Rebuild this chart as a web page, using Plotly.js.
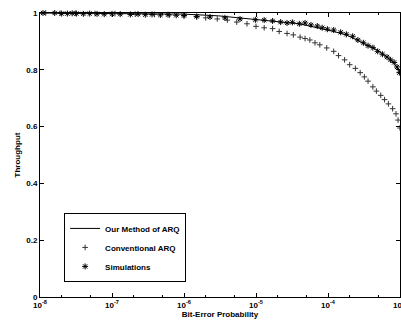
<!DOCTYPE html>
<html>
<head>
<meta charset="utf-8">
<script src="https://cdn.plot.ly/plotly-3.0.1.min.js"></script>
<style>html,body{margin:0;padding:0;background:#fff;}#chart{width:401px;height:322px;}</style>
</head>
<body>
<div id="chart"></div>
<script>
// "Our Method of ARQ" (analytic curve)
var ourP = [1e-8, 1e-7, 1e-6, 3e-6, 1e-5, 2e-5, 4e-5, 6e-5, 1e-4, 1.8e-4, 3e-4, 4.8e-4, 6.6e-4, 8e-4, 9e-4, 1e-3];
var ourT = [1.0, 0.999, 0.996, 0.99, 0.977, 0.968, 0.962, 0.952, 0.94, 0.923, 0.895, 0.87, 0.845, 0.827, 0.81, 0.79];

// "Conventional ARQ"
var convP = [1.2e-8, 1.9e-8, 3.1e-8, 5.8e-8, 1.1e-7, 2.1e-7, 3.9e-7, 6.3e-7, 1.0e-6, 1.5e-6, 2.0e-6, 2.9e-6, 4.0e-6, 5.4e-6, 7.5e-6, 1.0e-5, 1.3e-5, 1.7e-5, 2.1e-5, 2.7e-5, 3.3e-5, 4.1e-5, 4.8e-5, 5.6e-5, 6.6e-5, 7.7e-5, 9.6e-5, 1.2e-4, 1.4e-4, 1.7e-4, 2.0e-4, 2.4e-4, 2.8e-4, 3.2e-4, 3.6e-4, 4.2e-4, 4.7e-4, 5.4e-4, 6.1e-4, 6.9e-4, 7.9e-4, 8.8e-4, 9.4e-4, 1.0e-3];
var convT = [1.0, 0.999, 0.999, 0.998, 0.998, 0.996, 0.995, 0.993, 0.99, 0.986, 0.983, 0.979, 0.975, 0.968, 0.962, 0.953, 0.948, 0.945, 0.935, 0.928, 0.923, 0.915, 0.91, 0.905, 0.895, 0.888, 0.877, 0.865, 0.85, 0.835, 0.818, 0.805, 0.79, 0.775, 0.76, 0.74, 0.725, 0.71, 0.695, 0.68, 0.663, 0.645, 0.623, 0.595];

// "Simulations"
var simP = [1.1e-8, 1.6e-8, 2.0e-8, 2.4e-8, 2.8e-8, 3.2e-8, 4.0e-8, 4.9e-8, 6.2e-8, 7.8e-8, 1e-7, 1.3e-7, 1.8e-7, 2.3e-7, 2.9e-7, 3.6e-7, 4.7e-7, 6.0e-7, 7.8e-7, 1.0e-6, 1.5e-6, 2.3e-6, 3.7e-6, 6.0e-6, 9.8e-6, 1.3e-5, 1.7e-5, 2.2e-5, 2.7e-5, 3.2e-5, 4.0e-5, 4.8e-5, 5.8e-5, 7.1e-5, 8.3e-5, 9.8e-5, 1.2e-4, 1.5e-4, 1.8e-4, 2.2e-4, 2.6e-4, 3.1e-4, 3.6e-4, 4.2e-4, 4.9e-4, 5.7e-4, 6.6e-4, 7.4e-4, 8.3e-4, 9.1e-4, 9.8e-4];
var simT = [1.0, 1.0, 0.998, 0.998, 0.999, 0.998, 0.997, 0.998, 0.997, 0.996, 0.997, 0.996, 0.995, 0.996, 0.994, 0.995, 0.993, 0.994, 0.992, 0.991, 0.988, 0.986, 0.983, 0.979, 0.976, 0.975, 0.972, 0.968, 0.965, 0.967, 0.962, 0.965, 0.958, 0.954, 0.948, 0.943, 0.94, 0.932, 0.925, 0.918, 0.905, 0.895, 0.885, 0.878, 0.865, 0.855, 0.845, 0.835, 0.826, 0.81, 0.79];

var yTicks = [0, 0.2, 0.4, 0.6, 0.8, 1];
var yTickText = ["0", "0.2", "0.4", "0.6", "0.8", "1"];
var xTicks = [1e-8, 1e-7, 1e-6, 1e-5, 1e-4, 1e-3];
var xTickText = ["10<sup>-8</sup>", "10<sup>-7</sup>", "10<sup>-6</sup>", "10<sup>-5</sup>", "10<sup>-4</sup>", "10<sup>-3</sup>"];

var FONT = "Liberation Sans, Arial, sans-serif";

var traces = [
  {x: ourP, y: ourT, mode: "lines", name: "Our Method of ARQ",
   line: {color: "#000", width: 1}, cliponaxis: false},
  {x: convP, y: convT, mode: "markers", name: "Conventional ARQ",
   marker: {symbol: "cross-thin-open", size: 4, color: "#333", line: {color: "#333", width: 1}}, cliponaxis: false},
  {x: simP, y: simT, mode: "markers", name: "Simulations",
   marker: {symbol: "asterisk-open", size: 5, color: "#000", line: {color: "#000", width: 1}}, cliponaxis: false}
];

var layout = {
  width: 401, height: 322,
  margin: {l: 40, r: 1, t: 13, b: 25},
  paper_bgcolor: "#fff", plot_bgcolor: "#fff",
  font: {family: FONT, size: 8, color: "#000", weight: "bold"},
  showlegend: true,
  legend: {x: 0.067, y: 0.296, xanchor: "left", yanchor: "top",
           bgcolor: "#fff", bordercolor: "#000", borderwidth: 1,
           font: {family: FONT, size: 8, color: "#000", weight: "bold"},
           itemwidth: 30, tracegroupgap: 0},
  xaxis: {type: "log", range: [-8.0001, -2.9999], tickvals: xTicks, ticktext: xTickText,
          ticklabeloverflow: "allow",
          showgrid: false, zeroline: false, showline: true, linecolor: "#000", linewidth: 1,
          mirror: "ticks", ticks: "inside", ticklen: 4, tickcolor: "#000",
          minor: {ticks: "inside", ticklen: 2, tickcolor: "#000"},
          tickfont: {family: FONT, size: 8, color: "#000", weight: "bold"},
          title: {text: "Bit-Error Probability", standoff: 1,
                  font: {family: FONT, size: 8, color: "#000", weight: "bold"}}},
  yaxis: {range: [0, 1], tickvals: yTicks, ticktext: yTickText,
          showgrid: false, zeroline: false, showline: true, linecolor: "#000", linewidth: 1,
          mirror: "ticks", ticks: "inside", ticklen: 4, tickcolor: "#000",
          tickfont: {family: FONT, size: 8, color: "#000", weight: "bold"},
          title: {text: "Throughput", standoff: 4,
                  font: {family: FONT, size: 8, color: "#000", weight: "bold"}}}
};

Plotly.newPlot("chart", traces, layout, {displayModeBar: false, staticPlot: true});
</script>
</body>
</html>
